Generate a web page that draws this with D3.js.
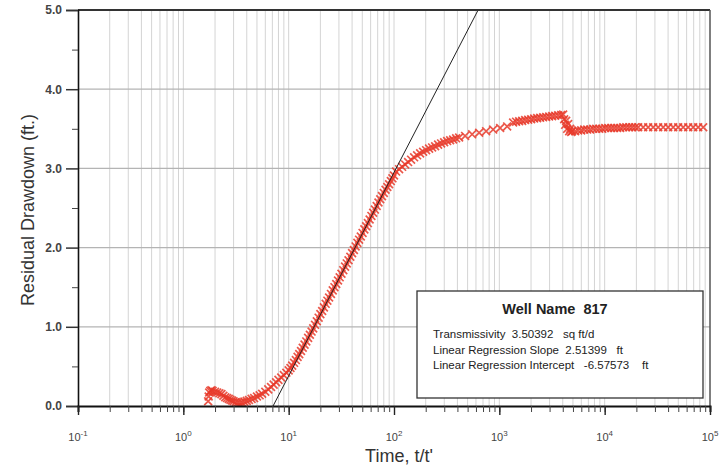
<!DOCTYPE html>
<html><head><meta charset="utf-8">
<script src="https://cdn.jsdelivr.net/npm/d3@7"></script>
<style>body{margin:0;background:#fff}text{font-family:"Liberation Sans",Arial,sans-serif;white-space:pre}</style>
</head><body><svg id="c" width="726" height="467"></svg>
<script>
// ---- data ----
const time = [
 1.72,1.74,1.76,1.80,1.85,1.9,2.0,2.1,2.2,2.3,2.4,2.5,2.6,2.7,2.8,2.9,3.0,3.15,3.3,3.45,3.6,3.8,4.0,4.2,4.45,4.7,5.0,5.3,5.6,6.0,6.4,6.8,7.2,7.6,8.0,8.5,9.0,9.5,
 10,10.4,10.8,11.25,11.7,12.15,12.6,13.1,13.6,14.15,14.7,15.3,15.9,16.5,17.1,17.8,18.5,19.25,20,20.8,21.6,22.45,23.3,24.2,25.2,26.2,27.2,28.3,29.4,30.5,31.7,33,34.3,35.6,37,38.5,40,41.6,43.2,44.9,46.6,48.4,50.3,52.3,54.4,56.5,58.7,61,63.4,65.9,68.5,71.2,74,76.9,80,83.1,86.4,89.8,93.3,96.6,100,
 104.7,111.8,119.4,127.5,136.1,145.3,155.2,165.7,177.0,189.0,201.8,215.4,230.0,245.7,262.3,280.1,299.1,319.4,341.0,364.2,388.8,415.2,
 473.4,551.7,643.1,749.4,873.4,1017.6,1186,
 1352,1443,1542,1647,1758,1878,2005,2141,2286,2441,2606,2782,2971,3172,3388,3617,3863,4035,
 4125,4216,4309,4405,4502,4602,4703,4808,4914,
 5245,5603,5983,6388,6822,7285,7779,8307,8870,9469,10110,10795,11527,12310,13146,14036,14990,16006,17090,18249,19489,20806,
 23210,25890,28880,32220,35940,40090,44720,49890,55650,62090,69260,77240,86170
];
const drawdown = [
 0.06,0.12,0.17,0.19,0.20,0.19,0.18,0.17,0.16,0.15,0.13,0.11,0.10,0.09,0.08,0.07,0.06,0.05,0.045,0.04,0.045,0.055,0.065,0.075,0.09,0.10,0.12,0.135,0.155,0.18,0.21,0.24,0.27,0.30,0.33,0.36,0.39,0.42,
 0.45,0.48,0.51,0.545,0.58,0.62,0.655,0.695,0.735,0.775,0.815,0.86,0.90,0.94,0.98,1.025,1.07,1.115,1.16,1.20,1.245,1.29,1.33,1.37,1.415,1.46,1.50,1.54,1.585,1.625,1.67,1.715,1.76,1.80,1.84,1.885,1.93,1.97,2.015,2.06,2.10,2.14,2.185,2.23,2.27,2.31,2.355,2.40,2.44,2.48,2.525,2.57,2.61,2.65,2.69,2.73,2.765,2.80,2.84,2.875,2.91,
 2.96,2.99,3.02,3.05,3.08,3.11,3.14,3.165,3.19,3.21,3.23,3.25,3.265,3.28,3.30,3.315,3.33,3.345,3.355,3.365,3.38,3.39,
 3.41,3.43,3.45,3.47,3.49,3.51,3.53,
 3.58,3.59,3.595,3.60,3.61,3.615,3.62,3.63,3.635,3.64,3.645,3.65,3.655,3.66,3.665,3.67,3.675,3.68,
 3.62,3.55,3.60,3.50,3.56,3.47,3.50,3.46,3.47,
 3.47,3.48,3.48,3.49,3.49,3.49,3.50,3.50,3.50,3.50,3.51,3.51,3.51,3.51,3.51,3.51,3.52,3.52,3.52,3.52,3.52,3.52,
 3.52,3.52,3.52,3.52,3.52,3.52,3.52,3.52,3.52,3.52,3.52,3.52,3.52
];
const regressionTime = [7.11, 629];
const regressionDrawdown = [0, 5];
const xDecades = [-1,0,1,2,3,4,5];
const yTicks = [0,1,2,3,4,5];
const yMinorTicks = [0.5,1.5,2.5,3.5,4.5];
const legendTitle = "Well Name  817";
const legendLines = ["Transmissivity  3.50392   sq ft/d","Linear Regression Slope  2.51399   ft","Linear Regression Intercept   -6.57573    ft"];
const xTitle = "Time, t/t'";
const yTitle = "Residual Drawdown (ft.)";

// ---- chart ----
const svg = d3.select("#c");
const L = 78, R = 710, T = 10, B = 406;
const x = d3.scaleLog().domain([0.1, 1e5]).range([L, R]);
const y = d3.scaleLinear().domain([0, 5]).range([B, T]);

// minor log values
const logVals = [];
for (let d = -1; d < 5; d++) for (let k = 1; k <= 9; k++) logVals.push(k * Math.pow(10, d));
logVals.push(1e5);

// vertical grid
svg.append("g").selectAll("line").data(logVals.filter(v => v > 0.1 && v < 1e5)).join("line")
  .attr("x1", d => x(d)).attr("x2", d => x(d)).attr("y1", T).attr("y2", B)
  .attr("stroke", "#d4d4d4").attr("stroke-width", 1);
// horizontal grid
svg.append("g").selectAll("line").data(yTicks.filter(v => v > 0 && v < 5)).join("line")
  .attr("x1", L).attr("x2", R).attr("y1", d => y(d)).attr("y2", d => y(d))
  .attr("stroke", "#b4b4b4").attr("stroke-width", 1.2);

// data markers
const pts = time.map((t, i) => [t, drawdown[i]]);
svg.append("defs").append("clipPath").attr("id", "clip").append("rect")
  .attr("x", L).attr("y", T).attr("width", R - L).attr("height", B - T);
const sym = d3.symbol().type(d3.symbolX).size(42);
svg.append("g").attr("clip-path", "url(#clip)").selectAll("path").data(pts).join("path")
  .attr("d", sym)
  .attr("transform", d => `translate(${x(d[0])},${y(d[1])})`)
  .attr("fill", "none").attr("stroke", "#e83a2a").attr("stroke-width", 1.7).attr("stroke-opacity", 0.85);

// regression line
svg.append("path").attr("clip-path", "url(#clip)")
  .datum(regressionTime.map((t, i) => [t, regressionDrawdown[i]]))
  .attr("d", d3.line().x(d => x(d[0])).y(d => y(d[1])))
  .attr("stroke", "#222").attr("stroke-width", 1).attr("fill", "none");

// frame
svg.append("line").attr("x1", L).attr("x2", R).attr("y1", T).attr("y2", T).attr("stroke", "#333").attr("stroke-width", 2);
svg.append("line").attr("x1", R).attr("x2", R).attr("y1", T).attr("y2", B).attr("stroke", "#555").attr("stroke-width", 1.5);

// y axis
const yAxis = svg.append("g").attr("transform", `translate(${L},0)`)
  .call(d3.axisLeft(y).tickValues(yTicks).tickFormat(d3.format(".1f")).tickSize(12).tickPadding(4));
yAxis.select(".domain").attr("stroke", "#111").attr("stroke-width", 1.6);
yAxis.selectAll(".tick line").attr("stroke", "#333").attr("stroke-width", 1.5);
yAxis.selectAll("text").attr("font-size", 12).attr("fill", "#444").attr("font-weight", "bold").attr("font-family", "Liberation Sans, Arial");
svg.append("g").attr("transform", `translate(${L},0)`)
  .call(d3.axisLeft(y).tickValues(yMinorTicks).tickFormat("").tickSize(6))
  .call(g => g.select(".domain").remove())
  .selectAll("line").attr("stroke", "#444").attr("stroke-width", 1);

// x axis
const xAxis = svg.append("g").attr("transform", `translate(0,${B})`)
  .call(d3.axisBottom(x).tickValues(logVals).tickFormat("").tickSize(6));
xAxis.select(".domain").attr("stroke", "#111").attr("stroke-width", 2);
xAxis.selectAll(".tick line").attr("stroke", "#444").attr("stroke-width", 1);
const majors = xDecades.map(e => Math.pow(10, e));
svg.append("g").attr("transform", `translate(0,${B})`)
  .call(d3.axisBottom(x).tickValues(majors).tickFormat("").tickSize(9))
  .call(g => g.select(".domain").remove())
  .selectAll("line").attr("stroke", "#222").attr("stroke-width", 1.4);
const xl = svg.append("g").selectAll("text").data(xDecades).join("text")
  .attr("x", d => x(Math.pow(10, d))).attr("y", 441)
  .attr("text-anchor", "middle").attr("font-size", 11).attr("fill", "#444");
xl.append("tspan").text("10");
xl.append("tspan").attr("dy", -5).attr("font-size", 8).text(d => d);

// titles
svg.append("text").attr("x", 399).attr("y", 462).attr("text-anchor", "middle")
  .attr("font-size", 18).attr("fill", "#333").text(xTitle);
svg.append("text").attr("transform", "translate(34,210) rotate(-90)").attr("text-anchor", "middle")
  .attr("font-size", 18).attr("fill", "#333").text(yTitle);

// legend box
const lg = svg.append("g");
lg.append("rect").attr("x", 417).attr("y", 291).attr("width", 286).attr("height", 107)
  .attr("fill", "#fff").attr("stroke", "#333").attr("stroke-width", 1.3);
lg.append("text").attr("x", 555).attr("y", 314).attr("text-anchor", "middle")
  .attr("font-size", 14.5).attr("font-weight", "bold").attr("fill", "#222").text(legendTitle);
lg.selectAll("text.l").data(legendLines).join("text").attr("class", "l")
  .attr("x", 433).attr("y", (d, i) => 338 + i * 15.5)
  .attr("font-size", 11.5).attr("fill", "#222").text(d => d);
</script></body></html>
